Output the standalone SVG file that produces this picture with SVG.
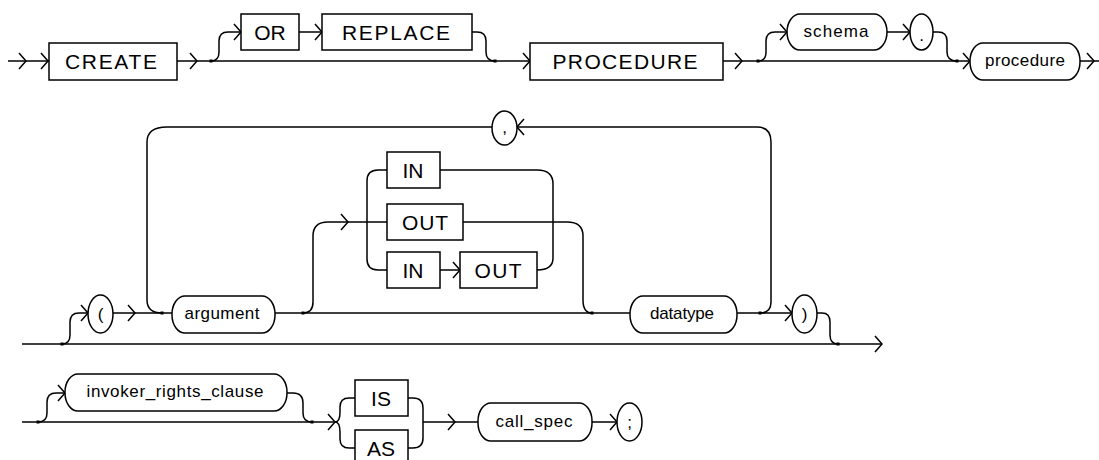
<svg xmlns="http://www.w3.org/2000/svg" width="1099" height="460" viewBox="0 0 1099 460">
<defs>
<style>
.ln{fill:none;stroke:#000;stroke-width:1.5}
.bx{fill:#fff;stroke:#000;stroke-width:1.5}
.kw{font-family:"Liberation Sans",Arial,sans-serif;font-size:21px;fill:#000;text-anchor:middle}
.id{font-family:"Liberation Sans",Arial,sans-serif;font-size:17px;fill:#000;text-anchor:middle}
.dot{fill:#000}
</style>
<path id="ar" class="ln" d="M-7,-8 L0,0 L-7,8"/>
</defs>
<rect width="1099" height="460" fill="#fff"/>

<g id="connectors">
  <!-- row 1 -->
  <path class="ln" d="M8,61 H49"/>
  <use href="#ar" x="26" y="61"/>
  <use href="#ar" x="48" y="61"/>
  <path class="ln" d="M177,61 H530"/>
  <use href="#ar" x="197" y="61"/>
  <use href="#ar" x="530" y="61"/>
  <path class="ln" d="M211,61 Q219,61 219,52 V41 Q219,32 228,32 H241"/>
  <use href="#ar" x="241" y="32"/>
  <path class="ln" d="M299,32 H322"/>
  <use href="#ar" x="322" y="32"/>
  <path class="ln" d="M472,32 H477 Q486,32 486,41 V52 Q486,61 495,61"/>
  <path class="ln" d="M723,61 H970"/>
  <use href="#ar" x="742" y="61"/>
  <use href="#ar" x="970" y="61"/>
  <path class="ln" d="M758,61 Q766,61 766,52 V41 Q766,32 775,32 H787"/>
  <use href="#ar" x="787" y="32"/>
  <path class="ln" d="M887,32 H910"/>
  <use href="#ar" x="910" y="32"/>
  <path class="ln" d="M933,32 H938 Q947,32 947,41 V52 Q947,61 957,61"/>
  <path class="ln" d="M1080,61 H1099"/>
  <use href="#ar" x="1094" y="61"/>
  <rect class="dot" x="209.5" y="59.5" width="3" height="3"/>
  <rect class="dot" x="493.5" y="59.5" width="3" height="3"/>
  <rect class="dot" x="756.5" y="59.5" width="3" height="3"/>
  <rect class="dot" x="955.5" y="59.5" width="3" height="3"/>

  <!-- row 2 -->
  <path class="ln" d="M22,344 H882"/>
  <use href="#ar" x="882" y="344"/>
  <path class="ln" d="M62,344 Q70,344 70,335 V322 Q70,313 79,313 H88"/>
  <use href="#ar" x="88" y="313"/>
  <path class="ln" d="M113,313 H172"/>
  <use href="#ar" x="135" y="313"/>
  <path class="ln" d="M275,313 H630"/>
  <path class="ln" d="M303,313 Q313,313 313,302 V236 Q313,222 328,222 H387"/>
  <use href="#ar" x="348" y="222"/>
  <path class="ln" d="M387,170 H378 Q367,170 367,181 V259 Q367,270 378,270 H387"/>
  <path class="ln" d="M440,270 H460"/>
  <use href="#ar" x="460" y="270"/>
  <path class="ln" d="M440,170 H537 Q553,170 553,184 V258 Q553,270 537,270"/>
  <path class="ln" d="M463,222 H567 Q583,222 583,236 V300 Q583,313 592,313"/>
  <path class="ln" d="M737,313 H792"/>
  <use href="#ar" x="792" y="313"/>
  <path class="ln" d="M760,313 Q771,313 771,302 V142 Q771,127 757,127 H517"/>
  <use href="#ar" transform="translate(517,127) scale(-1,1)"/>
  <path class="ln" d="M492,127 H167 Q147,127 147,142 V300 Q147,313 162,313"/>
  <path class="ln" d="M817,313 H822 Q830,313 830,322 V335 Q830,344 838,344"/>
  <rect class="dot" x="60.5" y="342.5" width="3" height="3"/>
  <rect class="dot" x="836.5" y="342.5" width="3" height="3"/>
  <rect class="dot" x="160.5" y="311.5" width="3" height="3"/>
  <rect class="dot" x="301.5" y="311.5" width="3" height="3"/>
  <rect class="dot" x="590.5" y="311.5" width="3" height="3"/>
  <rect class="dot" x="758.5" y="311.5" width="3" height="3"/>

  <!-- row 3 -->
  <path class="ln" d="M22,422 H337"/>
  <use href="#ar" x="335" y="422"/>
  <path class="ln" d="M38,422 Q47,422 47,413 V402 Q47,393 56,393 H65"/>
  <use href="#ar" x="65" y="393"/>
  <path class="ln" d="M287,393 H293 Q303,393 303,403 V413 Q303,422 312,422"/>
  <path class="ln" d="M335,422 Q340,422 340,412 V407 Q340,398 349,398 H355"/>
  <path class="ln" d="M335,422 Q340,422 340,432 V439 Q340,448 349,448 H355"/>
  <path class="ln" d="M408,398 H413 Q423,398 423,408 V438 Q423,448 413,448 H408"/>
  <path class="ln" d="M423,422 H478"/>
  <use href="#ar" x="455" y="422"/>
  <path class="ln" d="M592,422 H617"/>
  <use href="#ar" x="617" y="422"/>
  <rect class="dot" x="36.5" y="420.5" width="3" height="3"/>
  <rect class="dot" x="310.5" y="420.5" width="3" height="3"/>
</g>

<!-- row 1 nodes -->
<g id="n-create"><rect class="bx" x="49" y="43" width="128" height="37"/><text class="kw" x="111" y="69" textLength="92" lengthAdjust="spacing">CREATE</text></g>
<g id="n-or"><rect class="bx" x="241" y="14" width="58" height="36"/><text class="kw" x="270" y="40">OR</text></g>
<g id="n-replace"><rect class="bx" x="322" y="14" width="150" height="36"/><text class="kw" x="396" y="40" textLength="108" lengthAdjust="spacing">REPLACE</text></g>
<g id="n-procedure-kw"><rect class="bx" x="530" y="43" width="193" height="37"/><text class="kw" x="625" y="69" textLength="145" lengthAdjust="spacing">PROCEDURE</text></g>
<g id="n-schema"><rect class="bx" x="787" y="14" width="100" height="36" rx="13" ry="18"/><text class="id" x="836" y="37" textLength="65" lengthAdjust="spacing">schema</text></g>
<g id="n-dot"><ellipse class="bx" cx="921.5" cy="32" rx="11.5" ry="18"/><text class="id" x="921.5" y="41">.</text></g>
<g id="n-procedure"><rect class="bx" x="970" y="43" width="110" height="37" rx="13" ry="18"/><text class="id" x="1025" y="66" textLength="80" lengthAdjust="spacing">procedure</text></g>

<!-- row 2 nodes -->
<g id="n-lparen"><ellipse class="bx" cx="100.5" cy="314" rx="12.5" ry="19"/><text class="id" x="100.5" y="320">(</text></g>
<g id="n-argument"><rect class="bx" x="172" y="296" width="103" height="37" rx="13" ry="18"/><text class="id" x="222" y="319" textLength="75" lengthAdjust="spacing">argument</text></g>
<g id="n-in1"><rect class="bx" x="387" y="152" width="53" height="36"/><text class="kw" x="413" y="178">IN</text></g>
<g id="n-out1"><rect class="bx" x="387" y="204" width="76" height="36"/><text class="kw" x="425" y="230" textLength="46" lengthAdjust="spacing">OUT</text></g>
<g id="n-in2"><rect class="bx" x="387" y="252" width="53" height="36"/><text class="kw" x="413" y="278">IN</text></g>
<g id="n-out2"><rect class="bx" x="460" y="252" width="77" height="36"/><text class="kw" x="498" y="278" textLength="47" lengthAdjust="spacing">OUT</text></g>
<g id="n-comma"><ellipse class="bx" cx="504.5" cy="128" rx="12.5" ry="17"/><text class="id" x="504.5" y="133">,</text></g>
<g id="n-datatype"><rect class="bx" x="630" y="296" width="107" height="37" rx="13" ry="18"/><text class="id" x="682" y="319" textLength="64" lengthAdjust="spacing">datatype</text></g>
<g id="n-rparen"><ellipse class="bx" cx="804.5" cy="314" rx="12.5" ry="19"/><text class="id" x="804.5" y="320">)</text></g>

<!-- row 3 nodes -->
<g id="n-invoker"><rect class="bx" x="65" y="374" width="222" height="37" rx="13" ry="18"/><text class="id" x="175" y="397" textLength="177" lengthAdjust="spacing">invoker_rights_clause</text></g>
<g id="n-is"><rect class="bx" x="355" y="380" width="53" height="36"/><text class="kw" x="381" y="406">IS</text></g>
<g id="n-as"><rect class="bx" x="355" y="430" width="53" height="36"/><text class="kw" x="381" y="456">AS</text></g>
<g id="n-callspec"><rect class="bx" x="478" y="403" width="114" height="38" rx="13" ry="18"/><text class="id" x="534" y="427" textLength="77" lengthAdjust="spacing">call_spec</text></g>
<g id="n-semi"><ellipse class="bx" cx="629.5" cy="422" rx="12.5" ry="19"/><text class="id" x="629.5" y="428">;</text></g>
</svg>
